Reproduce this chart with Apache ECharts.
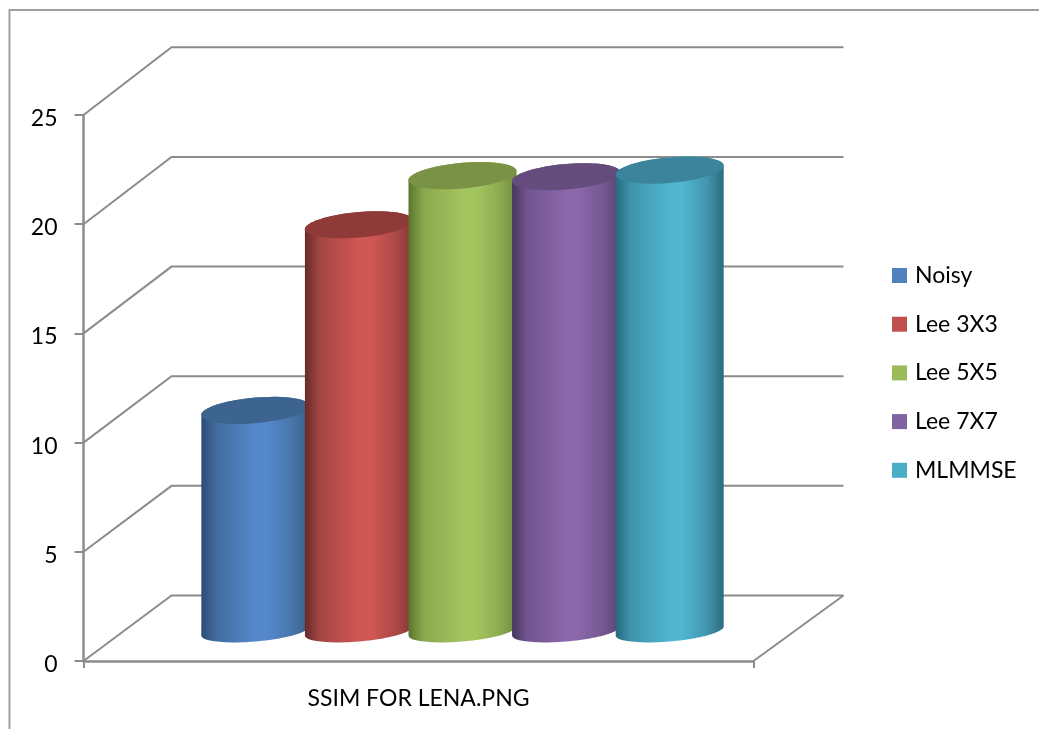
<!DOCTYPE html>
<html>
<head>
<meta charset="utf-8">
<style>html,body{margin:0;padding:0;background:#fff;overflow:hidden}#chart{width:1039px;height:729px}</style>
<script src="https://cdn.jsdelivr.net/npm/echarts@6/dist/echarts.min.js"></script>
</head>
<body>
<div id="chart"></div>
<script>
// SSIM scores for the Lena image, one cylinder per filter
const categories = ['SSIM FOR LENA.PNG'];
const seriesNames = ['Noisy', 'Lee 3X3', 'Lee 5X5', 'Lee 7X7', 'MLMMSE'];
const noisy = [10.1];
const lee3x3 = [18.6];
const lee5x5 = [20.85];
const lee7x7 = [20.8];
const mlmmse = [21.1];
const gridValues = [0, 5, 10, 15, 20, 25];

const seriesValues = [noisy, lee3x3, lee5x5, lee7x7, mlmmse];
const legendColors = ['#4f81bd', '#c0504d', '#9bbb59', '#8064a2', '#4bacc6'];
// left edge, left shoulder, highlight, right shoulder, right edge, lid
const shades = [
  ['#2b4c74', '#416c9f', '#5488cb', '#4775a8', '#375f8a', '#3d648e'],
  ['#682b29', '#a44643', '#cf5754', '#ab4845', '#853634', '#8e3a38'],
  ['#5a752d', '#8aa84e', '#a3c55e', '#8cab50', '#718a41', '#7a9245'],
  ['#47365f', '#71558f', '#8b67ac', '#73578f', '#5b4375', '#644c7c'],
  ['#28697f', '#3f93ab', '#50b6d2', '#4095ad', '#2c6a7e', '#3b849c']
];

// Projection of the 3D box: offsets of the back wall from the front plane
const wallDx = 88;
const wallRightDx = 90;
const wallDy = 65.5;
const wallScale = 1.004;
// Cylinder placement inside the box
const midDepthDx = 44;
const midDepthDy = 30;
const slotStep = 0.1546;
const radiusX = 54;
const lidRadiusY = 12.8;
const baseRadiusY = 10.5;
const lidShear = 4.5;

function ellipsePoints(cx, cy, ry, from, to) {
  const pts = [];
  const n = 48;
  for (let i = 0; i <= n; i++) {
    const t = from + (to - from) * i / n;
    pts.push([cx + radiusX * Math.cos(t), cy - lidShear * Math.cos(t) + ry * Math.sin(t)]);
  }
  return pts;
}

function renderWall(params, api) {
  const v = api.value(1);
  const front = api.coord([0, v]);
  const zero = api.coord([0, 0]);
  const band = api.size([1, 0])[0];
  const left = front[0] - band / 2;
  const right = front[0] + band / 2;
  const backY = zero[1] - wallDy - (zero[1] - front[1]) * wallScale;
  const style = { fill: 'none', stroke: '#8c8c8c', lineWidth: 2 };
  const children = [{
    type: 'polyline',
    shape: { points: [[left, front[1]], [left + wallDx, backY], [right + wallRightDx, backY]] },
    style
  }];
  if (v === 0) {
    children.push({
      type: 'line',
      shape: { x1: right, y1: front[1], x2: right + wallRightDx, y2: backY },
      style
    });
  }
  return { type: 'group', children };
}

function renderCylinder(params, api) {
  const idx = params.seriesIndex - 1;
  const band = api.size([1, 0])[0];
  const top = api.coord([api.value(0), api.value(1)]);
  const base = api.coord([api.value(0), 0]);
  const cx = top[0] + midDepthDx + (idx - 2) * slotStep * band;
  const yTop = top[1] - midDepthDy;
  const yBase = base[1] - midDepthDy;
  const s = shades[idx];
  const bodyPoints = ellipsePoints(cx, yBase, baseRadiusY, 0, Math.PI)
    .concat(ellipsePoints(cx, yTop, lidRadiusY, Math.PI, 2 * Math.PI));
  return {
    type: 'group',
    children: [{
      type: 'polygon',
      shape: { points: bodyPoints },
      style: {
        fill: new echarts.graphic.LinearGradient(0, 0, 1, 0, [
          { offset: 0, color: s[0] },
          { offset: 0.14, color: s[1] },
          { offset: 0.5, color: s[2] },
          { offset: 0.62, color: s[2] },
          { offset: 0.85, color: s[3] },
          { offset: 1, color: s[4] }
        ])
      }
    }, {
      type: 'polygon',
      shape: { points: ellipsePoints(cx, yTop, lidRadiusY, 0, 2 * Math.PI) },
      style: { fill: s[5] }
    }]
  };
}

const chart = echarts.init(document.getElementById('chart'), null, { renderer: 'canvas' });
const textStyle = { fontFamily: 'Lato', color: '#000' };
const axisStroke = { color: '#8c8c8c', width: 2.5 };

chart.setOption({
  animation: false,
  backgroundColor: '#fff',
  grid: { left: 83.5, top: 115, width: 670, height: 546 },
  graphic: [{
    type: 'polyline',
    silent: true,
    shape: { points: [[9.5, 729], [9.5, 10], [1039, 10]] },
    style: { fill: 'none', stroke: '#a0a0a0', lineWidth: 2 }
  }],
  legend: {
    orient: 'vertical',
    left: 892,
    top: 264,
    padding: 0,
    itemWidth: 15,
    itemHeight: 15,
    itemGap: 25.7,
    icon: 'rect',
    selectedMode: false,
    textStyle: Object.assign({ fontSize: 23, lineHeight: 15, padding: [0, 0, 0, 3] }, textStyle),
    data: seriesNames.map((name, i) => ({ name, itemStyle: { color: legendColors[i] } }))
  },
  xAxis: {
    type: 'category',
    data: categories,
    axisLine: { lineStyle: axisStroke },
    axisTick: { show: true, length: 7, lineStyle: { color: '#8c8c8c', width: 2 } },
    axisLabel: Object.assign({ fontSize: 23, margin: 26 }, textStyle)
  },
  yAxis: {
    type: 'value',
    min: 0,
    max: 25,
    interval: 5,
    splitLine: { show: false },
    axisLine: { show: true, lineStyle: axisStroke },
    axisTick: { show: true, length: 9, lineStyle: { color: '#8c8c8c', width: 2 } },
    axisLabel: Object.assign({ fontSize: 23, margin: 26, verticalAlign: 'top', lineHeight: 7 }, textStyle)
  },
  series: [{
    type: 'custom',
    name: 'wall',
    clip: false,
    silent: true,
    z: 1,
    data: gridValues.map(v => [0, v]),
    encode: { x: 0, y: 1 },
    renderItem: renderWall
  }].concat(seriesNames.map((name, i) => ({
    type: 'custom',
    name,
    clip: false,
    z: 3,
    itemStyle: { color: legendColors[i] },
    data: seriesValues[i].map((v, j) => [j, v]),
    encode: { x: 0, y: 1 },
    renderItem: renderCylinder
  })))
});
</script>
</body>
</html>
